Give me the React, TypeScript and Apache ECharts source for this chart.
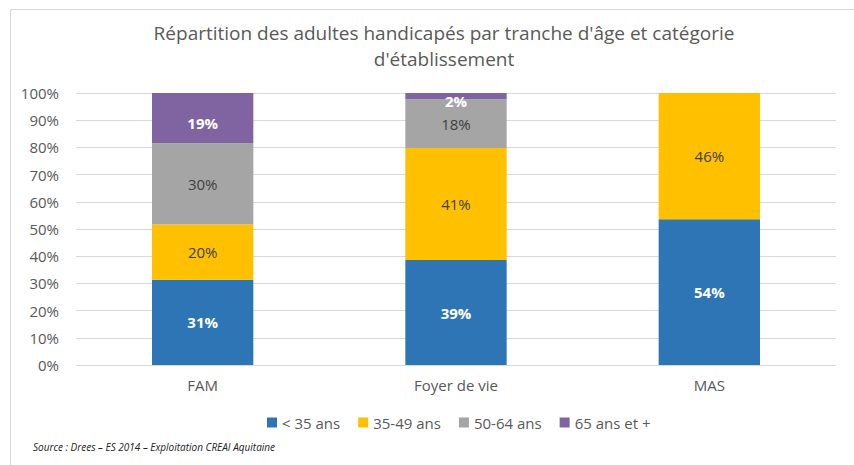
import React, { useEffect, useRef } from "react";
import * as echarts from "echarts";

const categories = ["FAM", "Foyer de vie", "MAS"];
const seriesNames = ["< 35 ans", "35-49 ans", "50-64 ans", "65 ans et +"];
const under35 = [31.3, 38.6, 53.6];
const from35to49 = [20.4, 41.2, 46.4];
const from50to64 = [29.8, 17.9, 0];
const over65 = [18.5, 2.3, 0];
const yTicks = [0, 10, 20, 30, 40, 50, 60, 70, 80, 90, 100];

const colors = ["#2E75B6", "#FFC000", "#A5A5A5", "#8064A2"];
const labelColors = ["#ffffff", "#404040", "#404040", "#ffffff"];
const labelBold = [true, false, false, true];

const FONT = "'Open Sans', 'Noto Sans', sans-serif";

export default function App() {
  const ref = useRef<HTMLDivElement>(null);
  useEffect(() => {
    if (!ref.current) return;
    const chart = echarts.init(ref.current, undefined, { renderer: "svg" });
    const data = [under35, from35to49, from50to64, over65];
    chart.setOption({
      animation: false,
      backgroundColor: "#ffffff",
      textStyle: { fontFamily: FONT },
      title: {
        text: "Répartition des adultes handicapés par tranche d'âge et catégorie\nd'établissement",
        left: 439,
        textAlign: "center",
        top: 15,
        textStyle: {
          fontFamily: FONT,
          fontSize: 19,
          fontWeight: "normal",
          color: "#595959",
          lineHeight: 26,
        },
      },
      legend: {
        data: seriesNames,
        left: 262,
        top: 410,
        itemWidth: 10,
        itemHeight: 10,
        itemGap: 18,
        icon: "rect",
        textStyle: { fontFamily: FONT, fontSize: 15, color: "#595959" },
      },
      grid: { left: 76, right: 18, top: 93, bottom: 100 },
      xAxis: {
        type: "category",
        data: categories,
        axisLine: { lineStyle: { color: "#D9D9D9" } },
        axisTick: { show: false },
        axisLabel: { fontFamily: FONT, fontSize: 15, color: "#595959", margin: 12 },
      },
      yAxis: {
        type: "value",
        min: 0,
        max: 100,
        interval: 10,
        axisLine: { show: false },
        axisTick: { show: false },
        splitLine: { lineStyle: { color: "#D9D9D9" } },
        axisLabel: {
          fontFamily: FONT,
          fontSize: 15,
          color: "#595959",
          margin: 17,
          formatter: (v: number) => (yTicks.includes(v) ? v + "%" : ""),
        },
      },
      series: seriesNames.map((name, i) => ({
        name,
        type: "bar",
        stack: "total",
        barWidth: "40%",
        itemStyle: { color: colors[i] },
        data: data[i],
        label: {
          show: true,
          position: "inside",
          offset: i === 3 ? [0, 5] : [0, 0],
          fontFamily: FONT,
          fontSize: 15,
          color: labelColors[i],
          fontWeight: labelBold[i] ? "bold" : "normal",
          formatter: (p: any) => (p.value > 0 ? Math.round(p.value) + "%" : ""),
        },
      })),
      graphic: [
        {
          type: "rect",
          shape: { x: 10.5, y: 9.5, width: 900, height: 470 },
          style: { fill: "none", stroke: "#D9D9D9", lineWidth: 1 },
          silent: true,
        },
        {
          type: "text",
          left: 33,
          top: 442,
          style: {
            text: "Source : Drees – ES 2014 – Exploitation CREAI Aquitaine",
            font: "italic 10px " + FONT,
            fill: "#222222",
          },
        },
      ],
    });
    return () => chart.dispose();
  }, []);
  return (
    <div
      ref={ref}
      style={{ position: "absolute", left: 0, top: 0, width: 854, height: 465 }}
    />
  );
}
